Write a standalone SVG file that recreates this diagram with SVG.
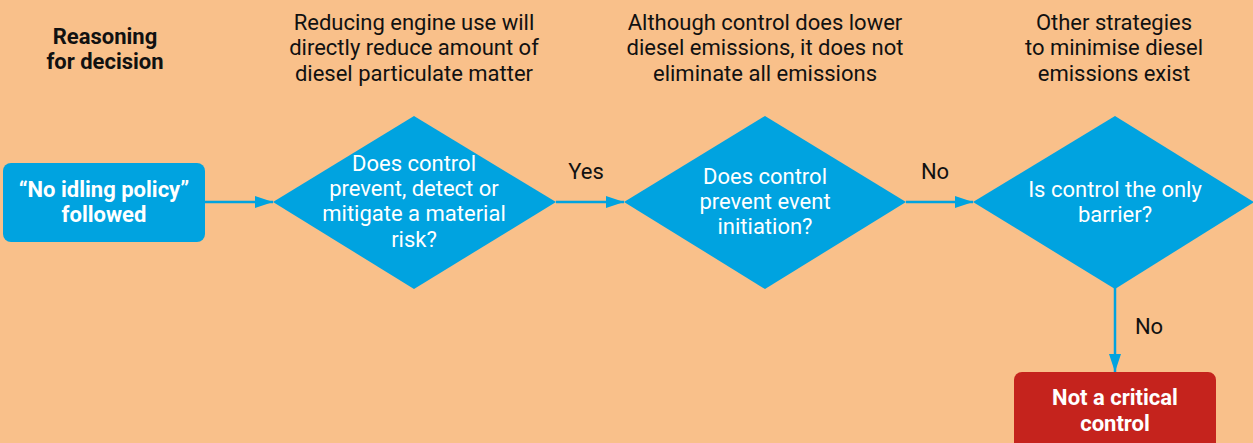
<svg xmlns="http://www.w3.org/2000/svg" width="1253" height="443" viewBox="0 0 1253 443">
<style>
.t{font-family:Roboto,"Liberation Sans",sans-serif;font-size:22px;text-anchor:middle;fill:#111}
.b{font-weight:bold}
.w{fill:#fff}
.node{fill:#00a3e0}
.red{fill:#c5231d}
.conn{stroke:#00a3e0;stroke-width:2.5;fill:none}
</style>
<defs>
<marker id="ah" viewBox="0 0 18 12" refX="18" refY="6" markerWidth="18" markerHeight="12" markerUnits="userSpaceOnUse" orient="auto">
<path d="M0,0 L18,6 L0,12 Z" fill="#00a3e0"/>
</marker>
</defs>
<rect width="1253" height="443" fill="#f9c08a"/>
<g id="headings">
<text class="t b" x="105" y="44">Reasoning</text>
<text class="t b" x="105" y="69">for decision</text>
<text class="t" x="414" y="30">Reducing engine use will</text>
<text class="t" x="414" y="55">directly reduce amount of</text>
<text class="t" x="414" y="81">diesel particulate matter</text>
<text class="t" x="765" y="30">Although control does lower</text>
<text class="t" x="765" y="55">diesel emissions, it does not</text>
<text class="t" x="765" y="81">eliminate all emissions</text>
<text class="t" x="1114" y="30">Other strategies</text>
<text class="t" x="1114" y="55">to minimise diesel</text>
<text class="t" x="1114" y="81">emissions exist</text>
</g>
<g id="connectors">
<line class="conn" x1="205" y1="202" x2="273" y2="202" marker-end="url(#ah)"/>
<line class="conn" x1="556" y1="202" x2="624" y2="202" marker-end="url(#ah)"/>
<line class="conn" x1="906" y1="202" x2="973" y2="202" marker-end="url(#ah)"/>
<line class="conn" x1="1115" y1="288" x2="1115" y2="372" marker-end="url(#ah)"/>
<text class="t" x="586" y="179">Yes</text>
<text class="t" x="935" y="179">No</text>
<text class="t" x="1149" y="334">No</text>
</g>
<g id="start">
<rect class="node" x="3" y="163" width="202" height="79" rx="8"/>
<text class="t b w" x="104" y="197">“No idling policy”</text>
<text class="t b w" x="104" y="222">followed</text>
</g>
<g id="q1">
<polygon class="node" points="273,202 414,116 556,202 414,289"/>
<text class="t w" x="414" y="171">Does control</text>
<text class="t w" x="414" y="196">prevent, detect or</text>
<text class="t w" x="414" y="221">mitigate a material</text>
<text class="t w" x="414" y="247">risk?</text>
</g>
<g id="q2">
<polygon class="node" points="624,202 765,116 906,202 765,289"/>
<text class="t w" x="765" y="184">Does control</text>
<text class="t w" x="765" y="209">prevent event</text>
<text class="t w" x="765" y="234">initiation?</text>
</g>
<g id="q3">
<polygon class="node" points="973,202 1115,116 1254,202 1115,289"/>
<text class="t w" x="1115" y="197">Is control the only</text>
<text class="t w" x="1115" y="222">barrier?</text>
</g>
<g id="result">
<rect class="red" x="1014" y="372" width="202" height="90" rx="8"/>
<text class="t b w" x="1115" y="405">Not a critical</text>
<text class="t b w" x="1115" y="431">control</text>
</g>
</svg>
